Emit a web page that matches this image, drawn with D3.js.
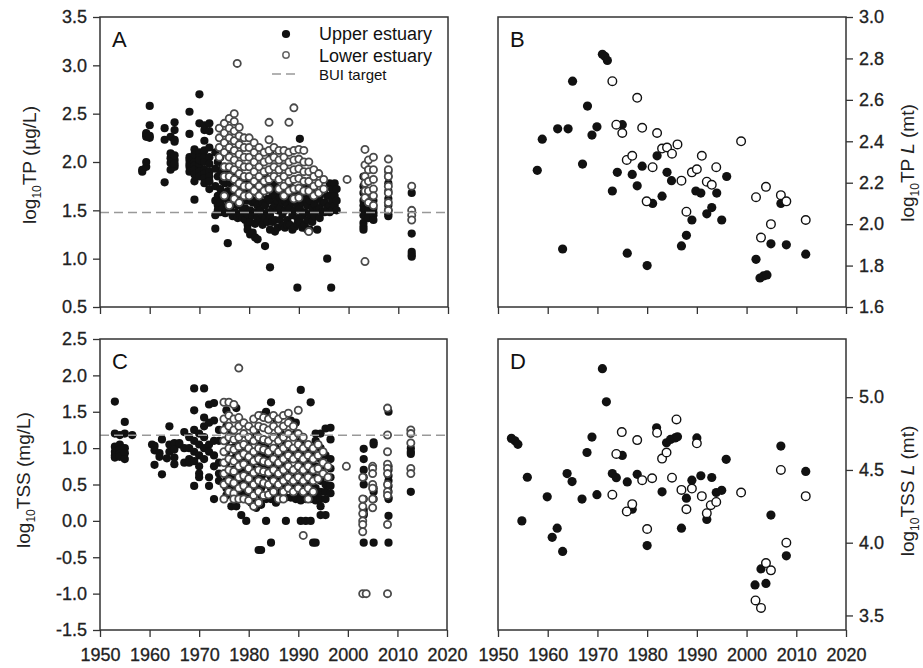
<!DOCTYPE html>
<html>
<head>
<meta charset="utf-8">
<script src="https://cdn.jsdelivr.net/npm/d3@7"></script>
<style>
  body { margin: 0; background: #fff; }
  svg { display: block; font-family: "Liberation Sans", Arial, sans-serif; }
</style>
</head>
<body>
<div id="chart"></div>
<script>
// Panel A: log10 TP (ug/L), grouped by year [year, [values]]
const tpUpper = [
  [1958.5, [1.90, 1.92]], [1959.3, [1.95, 2.00, 2.28, 2.26, 2.30]], [1960, [2.58, 2.38, 2.25, 2.27]],
  [1963, [2.35, 2.23, 1.79]], [1964.2, [1.92, 1.99, 2.04, 2.09, 2.26]],
  [1965, [1.95, 2.02, 2.07, 2.23, 2.21, 2.33, 2.41, 1.98]],
  [1968, [2.52, 2.29, 2.02, 1.98, 1.95, 2.05, 1.90]],
  [1969, [2.04, 2.00, 1.96, 1.92, 1.87, 2.08, 2.13, 1.61, 1.80]],
  [1970, [2.70, 2.40, 2.10, 2.05, 2.00, 1.95, 1.90, 1.85, 1.98, 2.02]],
  [1971, [2.33, 2.22, 2.12, 2.05, 2.00, 1.92, 1.88, 1.83, 1.78, 2.38]],
  [1972, [2.40, 2.32, 2.15, 2.05, 1.98, 1.90, 1.85, 1.80, 1.72]],
  [1973.2, [2.10, 1.93, 1.75, 1.60, 1.45, 1.31]], [1973.7, [2.00, 1.85, 1.65, 1.55, 1.50]],
  [1974.2, [2.05, 1.88, 1.72, 1.58, 1.48]], [1974.7, [1.95, 1.80, 1.65, 1.52, 1.90]],
  [1975.2, [2.20, 1.95, 1.78, 1.62, 1.47]], [1975.7, [2.10, 1.85, 1.70, 1.55, 1.16]],
  [1976.2, [1.92, 1.78, 1.63, 1.50]], [1976.7, [1.85, 1.70, 1.56, 1.44]],
  [1977.2, [1.90, 1.72, 1.60, 1.48]], [1977.7, [1.80, 1.66, 1.55, 1.42]],
  [1978.2, [1.85, 1.68, 1.56, 1.45]], [1978.7, [1.75, 1.62, 1.50, 1.42, 1.60]],
  [1979.2, [1.82, 1.67, 1.52, 1.40]], [1979.7, [1.74, 1.60, 1.46, 1.35, 1.30]],
  [1980.2, [1.78, 1.63, 1.50, 1.38, 1.25]], [1980.7, [1.70, 1.58, 1.45, 1.27]],
  [1981.2, [1.75, 1.60, 1.48, 1.36, 1.22]], [1981.7, [1.68, 1.55, 1.42, 1.20]],
  [1982.2, [1.80, 1.65, 1.50, 1.40]], [1982.7, [1.72, 1.58, 1.45, 1.35]],
  [1983.2, [1.85, 1.70, 1.55, 1.42, 1.13]], [1983.7, [1.78, 1.62, 1.48, 1.38]],
  [1984.2, [2.10, 1.72, 1.60, 1.45, 1.30, 0.91]], [1984.7, [1.80, 1.66, 1.52, 1.38]],
  [1985.2, [1.75, 1.65, 1.55, 1.40, 1.28]], [1985.7, [1.70, 1.60, 1.50, 1.32]],
  [1986.2, [1.72, 1.63, 1.52, 1.40]], [1986.7, [1.68, 1.58, 1.46, 1.34]],
  [1987.2, [1.70, 1.60, 1.50, 1.32]], [1987.7, [1.65, 1.55, 1.40, 1.35]],
  [1988.2, [1.75, 1.62, 1.52, 1.35]], [1988.7, [1.68, 1.58, 1.45, 1.30]],
  [1989.2, [1.72, 1.60, 1.50, 1.33]], [1989.7, [1.66, 1.55, 1.42, 0.70, 1.36]],
  [1990.2, [2.24, 1.64, 1.52, 1.38]], [1990.7, [1.70, 1.58, 1.45, 1.32]],
  [1991.2, [1.75, 1.62, 1.48, 1.35]], [1991.7, [1.68, 1.55, 1.40, 1.30]],
  [1992.2, [1.72, 1.60, 1.46, 1.30]], [1992.7, [1.65, 1.52, 1.38]],
  [1993.2, [1.70, 1.56, 1.44]], [1993.7, [1.62, 1.50, 1.30]],
  [1994.2, [1.65, 1.52, 1.42]], [1994.7, [1.58, 1.48]],
  [1995.2, [1.72, 1.58, 1.48]], [1995.7, [1.65, 1.52, 1.00]],
  [1996.2, [1.78, 1.65, 1.55, 1.48]], [1996.5, [0.70]], [1996.7, [1.72, 1.60, 1.50]],
  [1997.2, [1.78, 1.65, 1.55]], [1997.6, [1.72, 1.60, 1.50]],
  [2003, [1.85, 1.75, 1.68, 1.60, 1.55, 1.50, 1.45, 1.37, 1.33, 1.30]],
  [2004, [1.80, 1.70, 1.62, 1.55, 1.50, 1.45, 1.42]],
  [2005, [1.60, 1.52, 1.48, 1.45, 1.40]],
  [2008, [1.90, 1.85, 1.78, 1.70, 1.62, 1.55, 1.50, 1.46, 1.44]],
  [2012.7, [1.68, 1.26, 1.07, 1.04, 1.02]]
];
const tpLower = [
  [1974, [2.35, 2.25, 2.15, 2.05]],
  [1975, [2.40, 2.30, 2.20, 2.10, 1.95, 1.85, 1.65]],
  [1976, [2.45, 2.35, 2.25, 2.15, 2.05, 1.95, 1.85, 1.55]],
  [1977, [2.50, 2.42, 2.32, 2.22, 2.12, 2.02, 1.92, 1.82, 1.72, 1.62]],
  [1977.6, [3.02]],
  [1978, [2.36, 2.27, 2.18, 2.08, 1.98, 1.88, 1.78, 1.68, 1.58]],
  [1979, [2.25, 2.15, 2.05, 1.95, 1.85, 1.75, 1.65]],
  [1980, [2.25, 2.15, 2.05, 1.95, 1.85, 1.75, 1.65]],
  [1981, [2.20, 2.10, 2.00, 1.90, 1.80, 1.70]],
  [1982, [2.15, 2.05, 1.95, 1.85, 1.75, 1.65]],
  [1983, [2.10, 2.00, 1.90, 1.80, 1.70]],
  [1984, [2.41, 2.23, 2.12, 2.02, 1.92, 1.82, 1.72]],
  [1985, [2.15, 2.05, 1.95, 1.85]],
  [1986, [2.12, 2.02, 1.92, 1.82, 1.72]],
  [1987, [2.12, 2.05, 1.95, 1.85, 1.75, 1.65]],
  [1988, [2.41, 2.10, 2.00, 1.90, 1.80, 1.70]],
  [1989, [2.56, 2.12, 2.02, 1.92, 1.82, 1.72, 1.62]],
  [1990, [2.13, 2.03, 1.93, 1.83, 1.73, 1.63]],
  [1991, [2.12, 2.00, 1.90, 1.80, 1.70]],
  [1992, [2.00, 1.90, 1.80, 1.70, 1.28]],
  [1993, [1.92, 1.85, 1.75, 1.65]],
  [1994, [1.88, 1.78, 1.68]],
  [1995, [1.82, 1.72]],
  [1999.7, [1.82]],
  [2003.3, [2.13, 1.97, 1.85, 1.78, 1.70, 1.63, 0.97]],
  [2004, [2.02, 1.92, 1.80, 1.70, 1.58]],
  [2005, [2.05, 1.92, 1.82, 1.72, 1.65, 1.55]],
  [2008, [2.03, 1.92, 1.85, 1.75, 1.68, 1.58, 1.50]],
  [2012.7, [1.75, 1.50, 1.45, 1.40]]
];

// Panel C: log10 TSS (mg/L)
const tssUpper = [
  [1953, [1.64, 1.20, 1.02, 0.95, 0.90, 0.87]], [1954, [1.18, 1.05, 0.98, 0.92, 0.88]],
  [1955, [1.36, 1.20, 1.00, 0.93, 0.85]], [1956.5, [1.18]],
  [1960.5, [1.05]], [1961, [1.03, 0.97, 0.77]], [1962, [0.93, 0.88]], [1962.5, [1.12, 0.64]],
  [1963.5, [0.86]], [1964, [1.30, 0.95, 1.05]], [1965, [1.07, 0.98, 0.87, 0.78]], [1966, [1.05, 1.07]],
  [1967, [1.22, 1.00, 0.80]], [1968, [1.15, 1.00, 0.85, 0.80]],
  [1969, [1.82, 1.52, 1.25, 1.10, 0.95, 0.82, 0.48]],
  [1970, [1.20, 1.05, 0.90, 0.75, 0.65, 0.60]],
  [1971, [1.82, 1.42, 1.30, 1.15, 1.00, 0.85]],
  [1972, [1.60, 1.35, 1.05, 0.95, 0.60, 0.48]],
  [1973, [1.62, 1.38, 1.10, 0.90, 0.75, 0.30]],
  [1974, [1.25, 1.10, 0.80, 0.65, 0.55]],
  [1975.5, [1.52, 1.30, 1.10, 0.95, 0.80, 0.65, 0.55, 0.45, 0.35]],
  [1976.5, [1.20, 1.00, 0.85, 0.70, 0.60, 0.50, 0.40, 0.20]],
  [1977.5, [1.55, 1.05, 0.90, 0.72, 0.62, 0.50, 0.40, 0.30, 0.20]],
  [1978.5, [0.95, 0.80, 0.68, 0.55, 0.45, 0.35, 0.08]],
  [1979.5, [1.00, 0.85, 0.70, 0.60, 0.50, 0.40, 0.00]],
  [1980.5, [1.10, 0.90, 0.78, 0.65, 0.55, 0.45, 0.35, 0.25]],
  [1981.5, [1.20, 0.95, 0.82, 0.70, 0.60, 0.50, 0.38, 0.25, 0.18]],
  [1982, [-0.40]], [1982.5, [1.45, 1.05, 0.90, 0.80, 0.70, 0.58, 0.45, 0.35, 0.22, -0.40]],
  [1983.5, [1.50, 1.00, 0.88, 0.78, 0.65, 0.50, 0.30, 0.00]],
  [1984.5, [1.63, 0.95, 0.85, 0.72, 0.60, 0.45, 0.30, -0.30]],
  [1985.5, [1.40, 1.00, 0.85, 0.75, 0.62, 0.50, 0.35, 0.25]],
  [1986.5, [1.20, 0.92, 0.80, 0.68, 0.55, 0.40, 0.30]],
  [1987.5, [1.05, 0.90, 0.75, 0.60, 0.48, 0.32, 0.00]],
  [1988.5, [1.38, 0.95, 0.85, 0.70, 0.58, 0.45, 0.32]],
  [1989.5, [1.35, 1.20, 1.00, 0.85, 0.72, 0.60, 0.48, 0.30]],
  [1990.5, [1.80, 1.10, 0.92, 0.78, 0.62, 0.50, 0.35, 0.28, 0.00]],
  [1991.5, [1.00, 0.85, 0.70, 0.55, 0.40, 0.30, 0.00]],
  [1992.5, [1.63, 0.95, 0.80, 0.68, 0.52, 0.38, 0.30, 0.00]],
  [1993, [-0.30]], [1993.5, [1.20, 1.10, 0.90, 0.75, 0.60, 0.45, 0.35, 0.28, -0.30]],
  [1994.5, [1.20, 1.00, 0.85, 0.70, 0.55, 0.40, 0.30, 0.20, 0.08]],
  [1995.5, [1.27, 0.90, 0.75, 0.62, 0.50, 0.40, 0.30, 0.08]],
  [1996.5, [1.28, 1.12, 0.85, 0.72, 0.60, 0.48, 0.38]],
  [2003.2, [0.99, 0.85, 0.70, 0.60, 0.50, 0.30, 0.15, 0.10, 0.08, -0.30]],
  [2005.2, [1.08, 1.05, 0.45, 0.40, 0.30, -0.30]],
  [2008.2, [1.50, 0.75, 0.70, 0.62, 0.55, 0.48, 0.40, 0.30, 0.32, 0.07, -0.30]],
  [2012.7, [1.00, 0.95, 0.92, 0.40]]
];
const tssLower = [
  [1975, [1.63, 1.40, 1.25, 1.10, 0.95, 0.80, 0.65, 0.50, 0.30]],
  [1976, [1.63, 1.45, 1.30, 1.15, 1.00, 0.85, 0.70, 0.55, 0.40]],
  [1977, [1.60, 1.40, 1.25, 1.12, 0.98, 0.82, 0.68, 0.52, 0.38, 0.30]],
  [1978, [2.10, 1.42, 1.30, 1.15, 1.02, 0.88, 0.75, 0.60, 0.45, 0.30]],
  [1979, [1.35, 1.20, 1.05, 0.92, 0.78, 0.62, 0.48, 0.30]],
  [1980, [1.30, 1.15, 1.00, 0.88, 0.72, 0.58, 0.42, 0.28]],
  [1981, [1.40, 1.25, 1.10, 0.95, 0.82, 0.66, 0.50, 0.35, 0.20]],
  [1982, [1.45, 1.30, 1.15, 1.00, 0.85, 0.70, 0.55, 0.40, 0.25]],
  [1983, [1.42, 1.28, 1.12, 0.98, 0.82, 0.68, 0.52, 0.35]],
  [1984, [1.40, 1.25, 1.10, 0.95, 0.80, 0.66, 0.50, 0.36]],
  [1985, [1.45, 1.30, 1.15, 1.00, 0.85, 0.70, 0.55, 0.40]],
  [1986, [1.40, 1.25, 1.10, 0.95, 0.80, 0.65, 0.50, 0.30]],
  [1987, [1.45, 1.30, 1.15, 1.00, 0.85, 0.70, 0.55, 0.40, 0.30]],
  [1988, [1.48, 1.35, 1.20, 1.05, 0.90, 0.75, 0.60, 0.45]],
  [1989, [1.30, 1.15, 1.00, 0.85, 0.70, 0.55, 0.40]],
  [1990, [1.52, 1.20, 1.05, 0.90, 0.75, 0.60, 0.45]],
  [1991, [1.15, 1.00, 0.85, 0.70, 0.55, 0.40, -0.20]],
  [1992, [1.05, 0.90, 0.75, 0.60, 0.45, 0.30]],
  [1993, [1.00, 0.85, 0.70, 0.55, 0.40]],
  [1994, [1.05, 0.90, 0.72, 0.58]],
  [1995, [0.95, 0.80, 0.65]],
  [1996, [0.75, 0.60]],
  [1999.7, [0.75]],
  [2003, [0.60, 0.30, 0.20, 0.10, 0.00, -0.05, -0.15, -1.00]],
  [2003.7, [-1.00]],
  [2005, [0.75, 0.72, 0.65, 0.50, 0.45, 0.30, 0.18]],
  [2008, [1.55, 1.18, 0.95, 0.78, 0.72, 0.65, 0.50, 0.40, 0.35, -0.05, -1.00]],
  [2012.7, [1.25, 1.20, 1.07, 0.72, 0.65]]
];

// Panel B: log10 TP load (mt), [year, value]
const tpLoadUpper = [
  [1957.9, 2.26], [1958.9, 2.41], [1962.0, 2.46], [1964.1, 2.46], [1963.0, 1.88], [1965.0, 2.69],
  [1967.0, 2.29], [1968.0, 2.57], [1968.9, 2.43], [1969.9, 2.47], [1971.0, 2.82], [1971.5, 2.81],
  [1972.0, 2.79], [1973.0, 2.16], [1974.0, 2.25], [1975.0, 2.48], [1976.0, 1.86], [1977.0, 2.24],
  [1978.0, 2.185], [1979.0, 2.28], [1980.0, 1.80], [1981.1, 2.10], [1982.0, 2.33], [1983.0, 2.135],
  [1984.0, 2.25], [1984.9, 2.21], [1986.9, 1.895], [1987.9, 1.946], [1989.0, 2.02], [1989.8, 2.16],
  [1990.8, 2.15], [1992.0, 2.05], [1993.0, 2.08], [1994.0, 2.15], [1995.0, 2.02], [1996.0, 2.23],
  [2001.9, 1.83], [2002.7, 1.74], [2003.4, 1.75], [2004.1, 1.755], [2004.9, 1.905], [2006.9, 2.10],
  [2008.0, 1.90], [2011.9, 1.855]
];
const tpLoadLower = [
  [1973.0, 2.69], [1978.0, 2.61], [1973.8, 2.48], [1975.0, 2.44], [1975.9, 2.31], [1977.0, 2.33],
  [1979.0, 2.465], [1979.9, 2.11], [1981.1, 2.275], [1982.0, 2.44], [1983.0, 2.365], [1984.0, 2.37],
  [1985.0, 2.34], [1986.1, 2.385], [1986.9, 2.21], [1987.9, 2.06], [1989.0, 2.25], [1990.0, 2.265],
  [1991.0, 2.33], [1992.0, 2.205], [1993.0, 2.19], [1993.9, 2.275], [1998.9, 2.40], [2001.9, 2.13],
  [2002.9, 1.935], [2003.9, 2.18], [2004.9, 2.00], [2006.9, 2.14], [2008.0, 2.11], [2011.9, 2.02]
];

// Panel D: log10 TSS load (mt)
const tssLoadUpper = [
  [1952.7, 4.717], [1953.4, 4.70], [1954.0, 4.676], [1954.8, 4.15], [1955.9, 4.45], [1959.9, 4.315],
  [1960.9, 4.037], [1961.9, 4.10], [1963.0, 3.94], [1963.9, 4.475], [1964.9, 4.42], [1966.9, 4.30],
  [1967.9, 4.62], [1968.9, 4.726], [1969.9, 4.33], [1971.0, 5.196], [1971.8, 4.968], [1973.0, 4.475],
  [1973.8, 4.447], [1975.0, 4.60], [1976.0, 4.418], [1977.0, 4.23], [1978.0, 4.47], [1980.0, 3.98],
  [1981.9, 4.79], [1983.0, 4.35], [1983.9, 4.687], [1984.7, 4.71], [1985.6, 4.72], [1986.1, 4.728],
  [1986.9, 4.10], [1987.9, 4.306], [1989.0, 4.43], [1990.0, 4.72], [1990.8, 4.46], [1992.0, 4.16],
  [1993.0, 4.448], [1993.9, 4.345], [1995.0, 4.36], [1995.9, 4.573], [2001.7, 3.71], [2002.9, 3.82],
  [2003.9, 3.72], [2004.9, 4.19], [2006.9, 4.664], [2008.0, 3.91], [2011.9, 4.49]
];
const tssLoadLower = [
  [1973.0, 4.33], [1973.8, 4.61], [1974.9, 4.76], [1975.9, 4.215], [1977.0, 4.265], [1978.0, 4.705],
  [1979.0, 4.43], [1980.0, 4.094], [1981.0, 4.443], [1982.0, 4.756], [1983.0, 4.578], [1983.9, 4.62],
  [1985.0, 4.447], [1985.9, 4.847], [1986.9, 4.363], [1987.9, 4.23], [1989.0, 4.372], [1990.0, 4.683],
  [1991.0, 4.32], [1992.0, 4.203], [1992.8, 4.258], [1993.9, 4.28], [1998.9, 4.345], [2001.8, 3.603],
  [2002.9, 3.552], [2003.9, 3.86], [2004.9, 3.81], [2006.9, 4.50], [2008.0, 4.00], [2011.9, 4.32]
];

const yearTicks = [1950, 1960, 1970, 1980, 1990, 2000, 2010, 2020];
const tpTicks = [0.5, 1.0, 1.5, 2.0, 2.5, 3.0, 3.5];
const tssTicks = [-1.5, -1.0, -0.5, 0.0, 0.5, 1.0, 1.5, 2.0, 2.5];
const tpLoadTicks = [1.6, 1.8, 2.0, 2.2, 2.4, 2.6, 2.8, 3.0];
const tssLoadTicks = [3.5, 4.0, 4.5, 5.0];
const tpTarget = 1.477;   // BUI target, log10(30)
const tssTarget = 1.176;  // BUI target, log10(15)

const flat = groups => groups.flatMap(([yr, vals]) => vals.map(v => [yr, v]));

const width = 923, height = 668;
const svg = d3.select("#chart").append("svg")
  .attr("width", width).attr("height", height)
  .attr("viewBox", `0 0 ${width} ${height}`);

const fmt = d => d.toFixed(1);

const panels = [
  { id: "A", x0: 100, x1: 448, y0: 17, y1: 307, dom: [0.5, 3.5], ticks: tpTicks, side: "left",
    upper: flat(tpUpper), lower: flat(tpLower), target: tpTarget, xLabels: false, big: false },
  { id: "B", x0: 498, x1: 846, y0: 17, y1: 307, dom: [1.6, 3.0], ticks: tpLoadTicks, side: "right",
    upper: tpLoadUpper, lower: tpLoadLower, xLabels: false, big: true },
  { id: "C", x0: 100, x1: 447, y0: 339, y1: 630, dom: [-1.5, 2.5], ticks: tssTicks, side: "left",
    upper: flat(tssUpper), lower: flat(tssLower), target: tssTarget, xLabels: true, big: false },
  { id: "D", x0: 498, x1: 846, y0: 339, y1: 630, dom: [3.4, 5.4], ticks: tssLoadTicks, side: "right",
    upper: tssLoadUpper, lower: tssLoadLower, xLabels: true, big: true }
];

panels.forEach(p => {
  const x = d3.scaleLinear().domain([1950, 2020]).range([p.x0, p.x1]);
  const y = d3.scaleLinear().domain(p.dom).range([p.y1, p.y0]);
  const g = svg.append("g");

  // points: upper estuary (filled) then lower estuary (open) on top
  g.append("g").selectAll("circle").data(p.upper).join("circle")
    .attr("cx", d => x(d[0])).attr("cy", d => y(d[1]))
    .attr("r", p.big ? 4.6 : 4.1)
    .attr("fill", "#111");
  g.append("g").selectAll("circle").data(p.lower).join("circle")
    .attr("cx", d => x(d[0])).attr("cy", d => y(d[1]))
    .attr("r", p.big ? 4.3 : 3.6)
    .attr("fill", "#fff")
    .attr("stroke", p.big ? "#111" : "#4a4a4a")
    .attr("stroke-width", p.big ? 1.4 : 1.8);

  if (p.target !== undefined) {
    g.append("line")
      .attr("x1", p.x0).attr("x2", p.x1)
      .attr("y1", y(p.target)).attr("y2", y(p.target))
      .attr("stroke", "#999").attr("stroke-width", 1.6)
      .attr("stroke-dasharray", "9,5");
  }

  // frame
  g.append("rect")
    .attr("x", p.x0).attr("y", p.y0)
    .attr("width", p.x1 - p.x0).attr("height", p.y1 - p.y0)
    .attr("fill", "none").attr("stroke", "#333").attr("stroke-width", 1.5);

  // axes
  const xAxis = d3.axisBottom(x).tickValues(yearTicks).tickSize(7).tickPadding(11)
    .tickFormat(p.xLabels ? d3.format("d") : "");
  const yAxis = (p.side === "left" ? d3.axisLeft(y) : d3.axisRight(y))
    .tickValues(p.ticks).tickSize(7).tickPadding(6).tickFormat(fmt);

  const gx = g.append("g").attr("transform", `translate(0,${p.y1})`).call(xAxis);
  const gy = g.append("g").attr("transform", `translate(${p.side === "left" ? p.x0 : p.x1},0)`).call(yAxis);
  [gx, gy].forEach(ax => {
    ax.select(".domain").remove();
    ax.selectAll(".tick line").attr("stroke", "#333").attr("stroke-width", 1.3);
    ax.selectAll(".tick text").attr("fill", "#222")
      .attr("stroke", "#222").attr("stroke-width", 0.3)
      .style("font-size", "18px")
      .style("font-family", "'Liberation Sans', Arial, sans-serif");
  });

  // panel letter
  g.append("text")
    .attr("x", p.x0 + 12).attr("y", p.y0 + 30)
    .style("font-size", "22px").attr("fill", "#111")
    .text(p.id);
});

// axis titles
function axisTitle(xPos, yPos, main, tail, italicL) {
  const t = svg.append("text")
    .attr("transform", `translate(${xPos},${yPos}) rotate(-90)`)
    .attr("text-anchor", "middle")
    .style("font-size", "19px").attr("fill", "#222");
  t.append("tspan").text("log");
  t.append("tspan").attr("dy", 5).style("font-size", "12px").text("10");
  t.append("tspan").attr("dy", -5).text(main);
  if (italicL) {
    t.append("tspan").style("font-style", "italic").text("L");
  }
  t.append("tspan").text(tail);
}
axisTitle(36, 165, "TP ", "(\u00b5g/L)", false);
axisTitle(30, 480, "TSS ", "(mg/L)", false);
axisTitle(914, 163, "TP ", " (mt)", true);
axisTitle(914, 491, "TSS ", " (mt)", true);

// legend in panel A
const legend = svg.append("g");
legend.append("circle").attr("cx", 286).attr("cy", 34).attr("r", 4.1).attr("fill", "#111");
legend.append("circle").attr("cx", 286).attr("cy", 55).attr("r", 3.2)
  .attr("fill", "#fff").attr("stroke", "#666").attr("stroke-width", 1.5);
legend.append("line").attr("x1", 272).attr("x2", 298).attr("y1", 74).attr("y2", 74)
  .attr("stroke", "#999").attr("stroke-width", 1.6).attr("stroke-dasharray", "9,5");
legend.append("text").attr("x", 319).attr("y", 40).style("font-size", "18px").attr("fill", "#111").text("Upper estuary");
legend.append("text").attr("x", 319).attr("y", 62).style("font-size", "18px").attr("fill", "#111").text("Lower estuary");
legend.append("text").attr("x", 319).attr("y", 80).style("font-size", "15px").attr("fill", "#111").text("BUI target");
</script>
</body>
</html>
